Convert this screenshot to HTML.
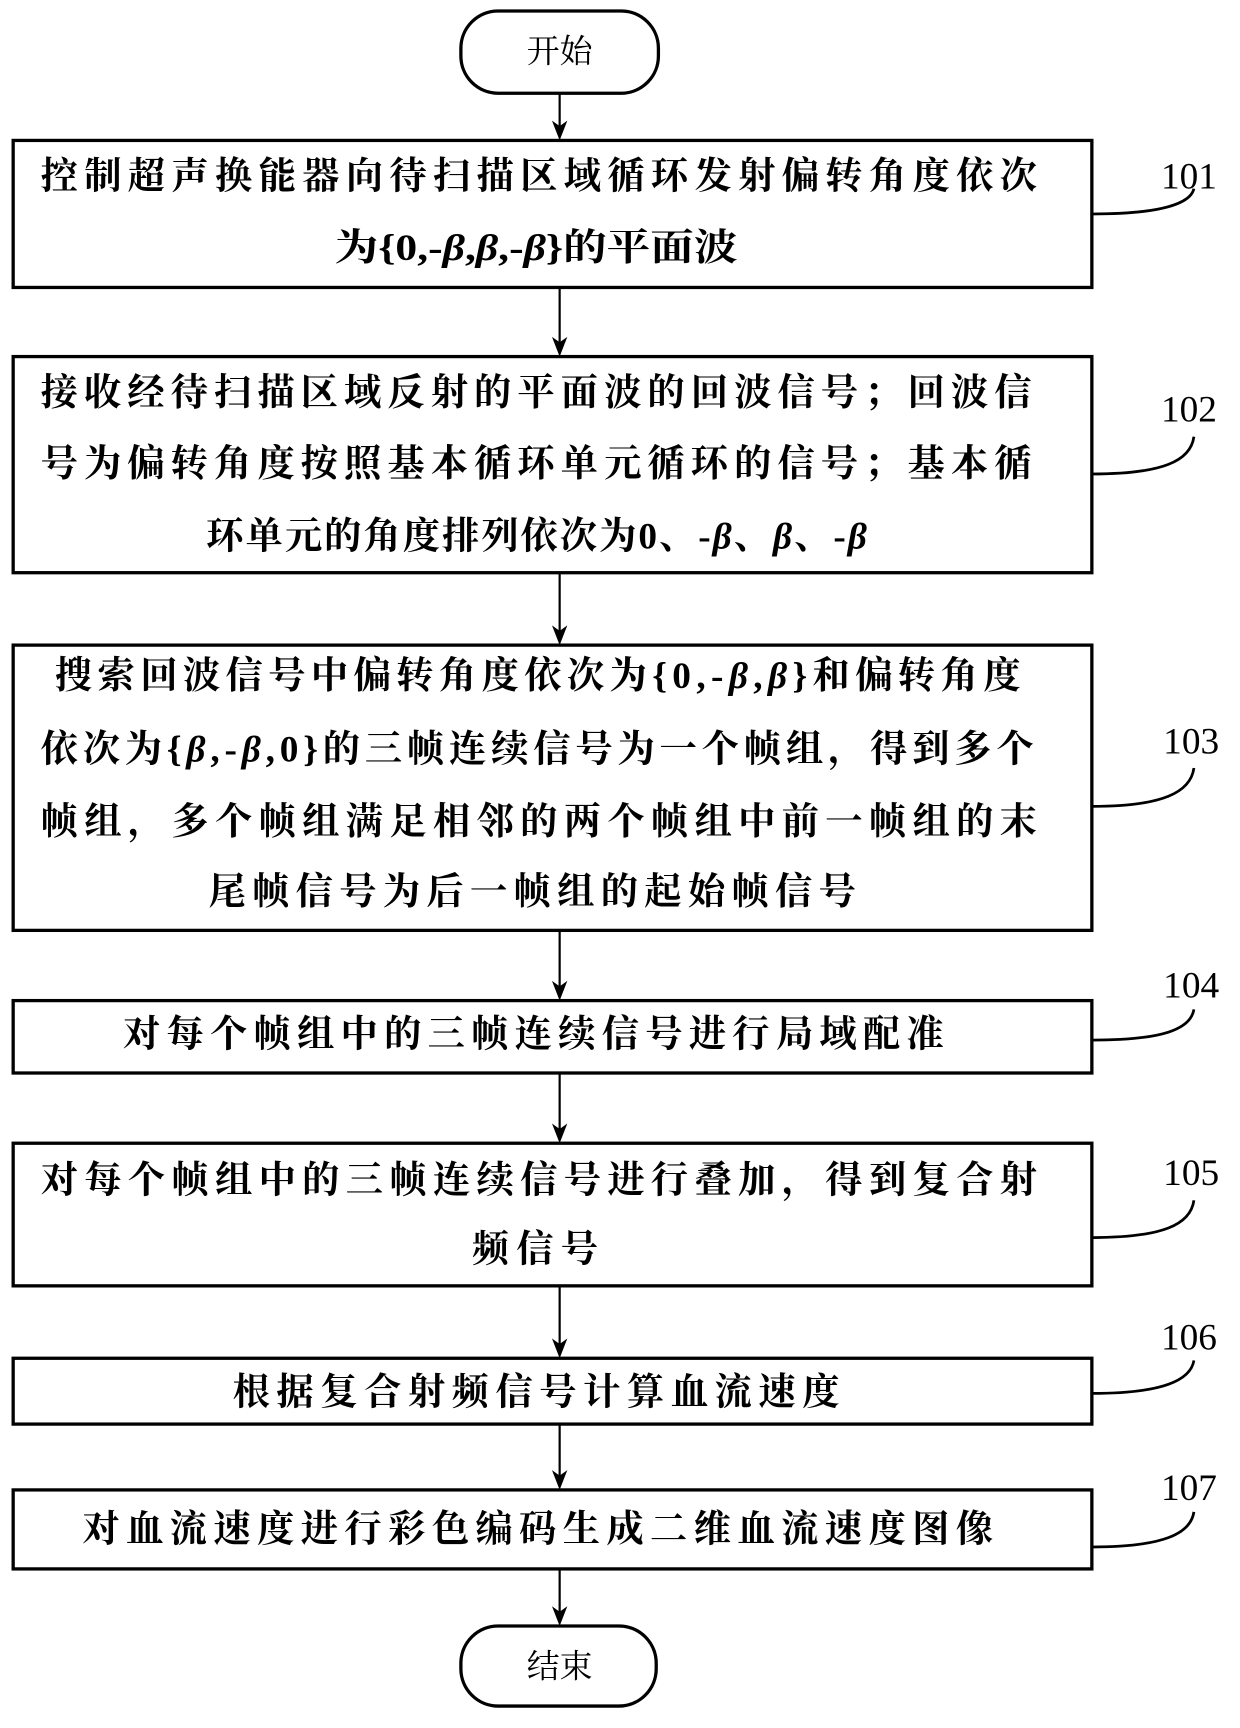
<!DOCTYPE html>
<html><head><meta charset="utf-8"><style>
html,body{margin:0;padding:0;background:#fff}
svg{display:block}
.t{font-family:"Liberation Serif","Noto Serif CJK SC",serif;font-weight:bold;font-size:34px;fill:#000}
.n{font-family:"Liberation Serif",serif;font-size:34px;fill:#000}
.c{font-family:"Liberation Serif","Noto Serif CJK SC",serif;font-size:30px;fill:#000}
</style></head><body>
<svg width="1240" height="1728" viewBox="0 0 1130 1575" preserveAspectRatio="none" xmlns="http://www.w3.org/2000/svg">
<g fill="none" stroke="#000" stroke-width="3">
<rect x="420" y="10" width="180" height="75" rx="34"/>
<rect x="420" y="1482" width="178" height="73" rx="34"/>
<rect x="12" y="128" width="983" height="134"/>
<rect x="12" y="325" width="983" height="197"/>
<rect x="12" y="588" width="983" height="260"/>
<rect x="12" y="912" width="983" height="66"/>
<rect x="12" y="1042" width="983" height="130"/>
<rect x="12" y="1238" width="983" height="60"/>
<rect x="12" y="1358" width="983" height="72"/>
</g>
<g stroke="#000" stroke-width="2">
<line x1="510" y1="85" x2="510" y2="120"/>
<line x1="510" y1="262" x2="510" y2="317"/>
<line x1="510" y1="522" x2="510" y2="580"/>
<line x1="510" y1="848" x2="510" y2="904"/>
<line x1="510" y1="978" x2="510" y2="1034"/>
<line x1="510" y1="1172" x2="510" y2="1230"/>
<line x1="510" y1="1298" x2="510" y2="1350"/>
<line x1="510" y1="1430" x2="510" y2="1474"/>
</g>
<g fill="#000">
<path d="M503,110 L510,128 L517,110 L510,115 Z"/>
<path d="M503,307 L510,325 L517,307 L510,312 Z"/>
<path d="M503,570 L510,588 L517,570 L510,575 Z"/>
<path d="M503,894 L510,912 L517,894 L510,899 Z"/>
<path d="M503,1024 L510,1042 L517,1024 L510,1029 Z"/>
<path d="M503,1220 L510,1238 L517,1220 L510,1225 Z"/>
<path d="M503,1340 L510,1358 L517,1340 L510,1345 Z"/>
<path d="M503,1464 L510,1482 L517,1464 L510,1469 Z"/>
</g>
<g fill="none" stroke="#000" stroke-width="2.5">
<path d="M995,195 C1060,195 1085,185 1088,172"/>
<path d="M995,432 C1060,432 1085,420 1088,398"/>
<path d="M995,735 C1060,735 1085,722 1088,700"/>
<path d="M995,948 C1060,948 1085,938 1088,920"/>
<path d="M995,1128 C1060,1128 1085,1116 1088,1094"/>
<path d="M995,1270 C1060,1270 1085,1258 1088,1240"/>
<path d="M995,1410 C1060,1410 1085,1398 1088,1378"/>
</g>
<g class="n">
<text x="1058" y="172">101</text>
<text x="1058" y="384">102</text>
<text x="1060" y="687">103</text>
<text x="1060" y="909">104</text>
<text x="1060" y="1080">105</text>
<text x="1058" y="1230">106</text>
<text x="1058" y="1367">107</text>
</g>
<text class="c" x="510" y="57" text-anchor="middle">开始</text>
<text class="c" x="510" y="1529" text-anchor="middle">结束</text>
<g class="t">
<text x="37" y="172" textLength="908" lengthAdjust="spacing">控制超声换能器向待扫描区域循环发射偏转角度依次</text>
<text x="305" y="237" textLength="367" lengthAdjust="spacingAndGlyphs">为{0,-<tspan font-style="italic">β</tspan>,<tspan font-style="italic">β</tspan>,-<tspan font-style="italic">β</tspan>}的平面波</text>
<text x="37" y="369" textLength="903" lengthAdjust="spacing">接收经待扫描区域反射的平面波的回波信号；回波信</text>
<text x="37" y="434" textLength="903" lengthAdjust="spacing">号为偏转角度按照基本循环单元循环的信号；基本循</text>
<text x="188" y="500" textLength="602" lengthAdjust="spacing">环单元的角度排列依次为0、-<tspan font-style="italic">β</tspan>、<tspan font-style="italic">β</tspan>、-<tspan font-style="italic">β</tspan></text>
<text x="50" y="627" textLength="880" lengthAdjust="spacing">搜索回波信号中偏转角度依次为{0,-<tspan font-style="italic">β</tspan>,<tspan font-style="italic">β</tspan>}和偏转角度</text>
<text x="37" y="694" textLength="905" lengthAdjust="spacing">依次为{<tspan font-style="italic">β</tspan>,-<tspan font-style="italic">β</tspan>,0}的三帧连续信号为一个帧组，得到多个</text>
<text x="37" y="760" textLength="908" lengthAdjust="spacing">帧组，多个帧组满足相邻的两个帧组中前一帧组的末</text>
<text x="190" y="824" textLength="590" lengthAdjust="spacing">尾帧信号为后一帧组的起始帧信号</text>
<text x="112" y="954" textLength="748" lengthAdjust="spacing">对每个帧组中的三帧连续信号进行局域配准</text>
<text x="37" y="1087" textLength="908" lengthAdjust="spacing">对每个帧组中的三帧连续信号进行叠加，得到复合射</text>
<text x="430" y="1150" textLength="115" lengthAdjust="spacing">频信号</text>
<text x="212" y="1280" textLength="553" lengthAdjust="spacing">根据复合射频信号计算血流速度</text>
<text x="75" y="1405" textLength="830" lengthAdjust="spacing">对血流速度进行彩色编码生成二维血流速度图像</text>
</g>
</svg>
</body></html>
